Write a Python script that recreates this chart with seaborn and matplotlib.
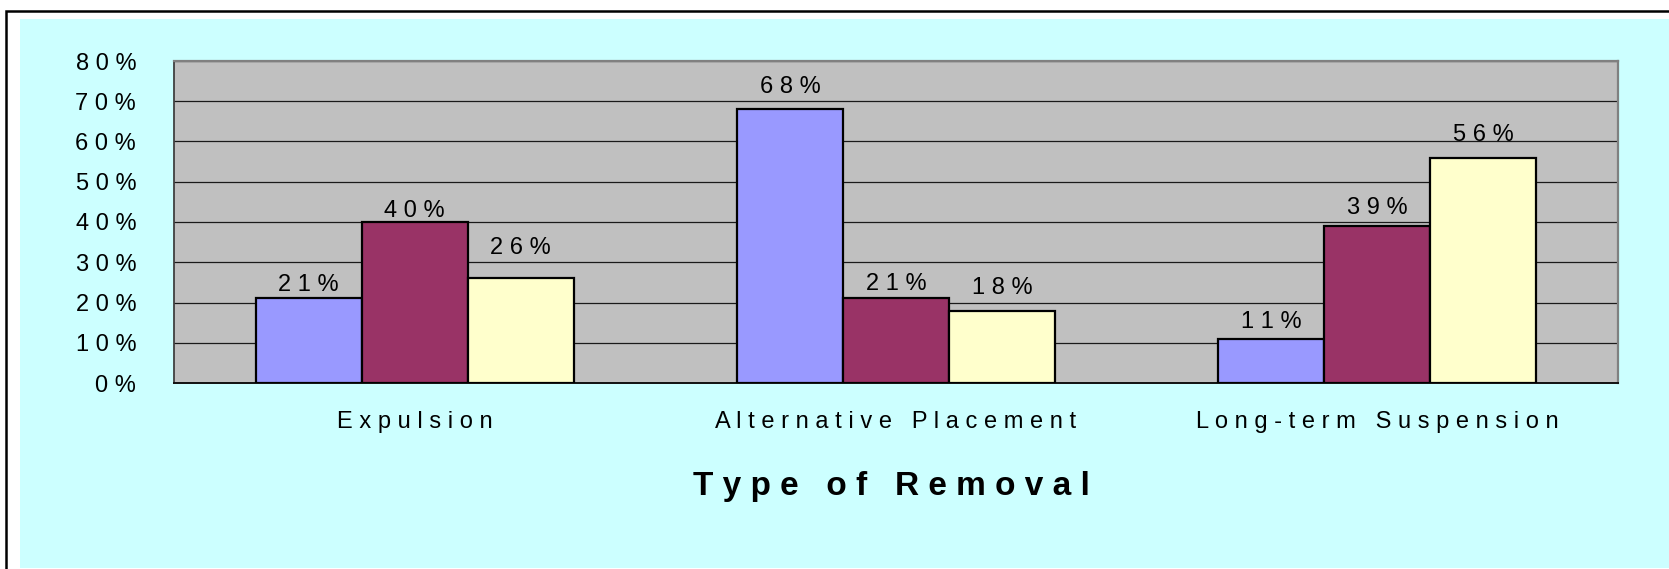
import matplotlib
matplotlib.use("Agg")
import matplotlib.pyplot as plt
import seaborn as sns
import pandas as pd
from matplotlib.patches import Rectangle

# ---- data ----
categories = ["Expulsion", "Alternative Placement", "Long-term Suspension"]
series_names = ["Series 1", "Series 2", "Series 3"]
series1_values = [21, 68, 11]
series2_values = [40, 21, 39]
series3_values = [26, 18, 56]
y_tick_values = [0, 10, 20, 30, 40, 50, 60, 70, 80]
x_axis_title = "Type of Removal"

# ---- style ----
bar_colors = ["#9999FF", "#993366", "#FFFFCC"]
# vertical gap (pixels) between bar top and its value label, per series
label_gap_px = [[7.7, 16, 11], [4.7, 8, 12], [24, 17, 17]]

W, H, DPI = 1669, 569, 100


def spaced(s):
    return " ".join(s)


sns.set_style("white")
plt.rcParams["font.family"] = ["Liberation Sans", "DejaVu Sans"]

rows = []
for name, vals in zip(series_names, [series1_values, series2_values, series3_values]):
    for cat, v in zip(categories, vals):
        rows.append({"category": cat, "series": name, "value": v})
df = pd.DataFrame(rows)

fig = plt.figure(figsize=(W / DPI, H / DPI), dpi=DPI, facecolor="white")

# chart area background and outer frame
fig.patches.append(Rectangle((20 / W, 1.3 / H), 1.0, (567.7 - 19.3) / H,
                             transform=fig.transFigure, facecolor="#CCFFFF",
                             edgecolor="none", zorder=-3))
fig.patches.append(Rectangle((6 / W, -0.2), 1.2, 1.2 - 11 / H,
                             transform=fig.transFigure, facecolor="none",
                             edgecolor="black", linewidth=1.8, zorder=-2))

left, right, top, bottom = 174, 1618, 61, 383
ax = fig.add_axes([left / W, (H - bottom) / H, (right - left) / W, (bottom - top) / H])
ax.set_zorder(2)
ax.set_facecolor("#C0C0C0")

sns.barplot(data=df, x="category", y="value", hue="series", order=categories,
            hue_order=series_names, palette=bar_colors, width=0.66, gap=0,
            saturation=1, edgecolor="black", linewidth=1.6, legend=False, ax=ax,
            zorder=3)

ax.set_xlim(-0.5, 2.5)
ax.set_ylim(0, 80)
ax.set_axisbelow(True)
ax.yaxis.grid(True, color="#1a1a1a", linewidth=0.9)
ax.xaxis.grid(False)

ax.set_yticks(y_tick_values)
ax.set_yticklabels([spaced(f"{t}%") for t in y_tick_values])
ax.tick_params(axis="y", length=7.2, width=1.0, direction="out", pad=20,
               labelsize=17, color="#333333", labelcolor="black")

ax.set_xticks(range(len(categories)))
ax.set_xticklabels([spaced(c) for c in categories])
ax.tick_params(axis="x", which="major", length=0, pad=20, labelsize=17,
               labelcolor="black")
ax.set_xticks([-0.5, 0.5, 1.5, 2.5], minor=True)
ax.tick_params(axis="x", which="minor", length=5.8, width=1.0,
               direction="out", color="#333333")

ax.set_xlabel("")
ax.set_ylabel("")

for side in ["top", "right"]:
    ax.spines[side].set_color("#808080")
    ax.spines[side].set_linewidth(1.6)
ax.spines["left"].set_color("#404040")
ax.spines["left"].set_linewidth(1.3)
ax.spines["bottom"].set_color("#111111")
ax.spines["bottom"].set_linewidth(1.4)

# value labels
for i, cont in enumerate(ax.containers):
    for j, bar in enumerate(cont):
        h = bar.get_height()
        xc = bar.get_x() + bar.get_width() / 2
        ax.annotate(spaced(f"{h:.0f}%"), xy=(xc, h),
                    xytext=(0, label_gap_px[i][j] * 72 / DPI),
                    textcoords="offset points", ha="center", va="baseline",
                    fontsize=17, color="black", zorder=5)

fig.text(891 / W, (H - 495) / H, spaced(x_axis_title), ha="center",
         va="baseline", fontsize=24, fontweight="bold", color="black")

fig.savefig("out.png", dpi=DPI)
